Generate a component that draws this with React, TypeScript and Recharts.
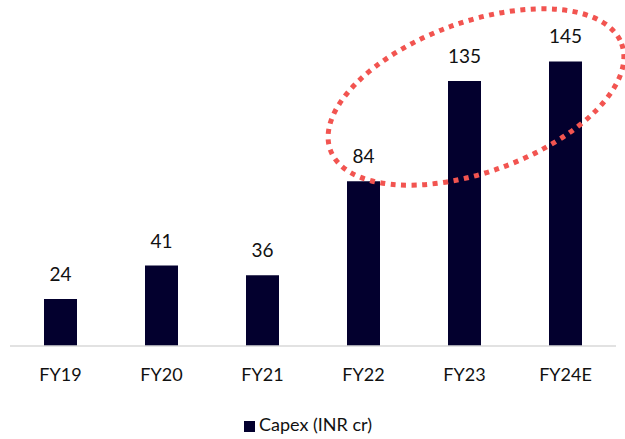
import { BarChart, Bar, XAxis, YAxis, LabelList, Legend } from 'recharts';

const years = ['FY19', 'FY20', 'FY21', 'FY22', 'FY23', 'FY24E'];
const capex = [24, 41, 36, 84, 135, 145];

const chartData = years.map((year, i) => ({ year, capex: capex[i] }));

const BAR_COLOR = '#03002e';
const FONT = 'Lato, "Open Sans", sans-serif';

export default function App() {
  return (
    <div style={{ position: 'absolute', left: 0, top: 0, width: 625, height: 439, background: '#fff', fontFamily: FONT }}>
      <BarChart
        width={625}
        height={439}
        data={chartData}
        margin={{ top: 32, right: 9, bottom: 0, left: 10 }}
      >
        <XAxis
          dataKey="year"
          axisLine={{ stroke: '#d9d9d9', strokeWidth: 1.5 }}
          tickLine={false}
          tickMargin={16}
          height={67}
          tick={{ fill: '#111', fontSize: 18, fontFamily: FONT }}
        />
        <YAxis hide domain={[0, 160]} />
        <Legend
          verticalAlign="bottom"
          iconType="square"
          iconSize={11}
          height={26}
          formatter={(value) => <span style={{ color: '#111', fontSize: 18, fontFamily: FONT }}>{value}</span>}
        />
        <Bar dataKey="capex" name="Capex (INR cr)" fill={BAR_COLOR} barSize={33} isAnimationActive={false}>
          <LabelList dataKey="capex" position="top" offset={18} fill="#111" fontSize={19} fontFamily={FONT} />
        </Bar>
      </BarChart>
      {/* highlight around the last three years */}
      <svg width={625} height={439} style={{ position: 'absolute', left: 0, top: 0, pointerEvents: 'none' }}>
        <ellipse
          cx={476}
          cy={97}
          rx={155}
          ry={75}
          transform="rotate(-20 476 97)"
          fill="none"
          stroke="#f25450"
          strokeWidth={5}
          strokeDasharray="5 5.5"
        />
      </svg>
    </div>
  );
}
